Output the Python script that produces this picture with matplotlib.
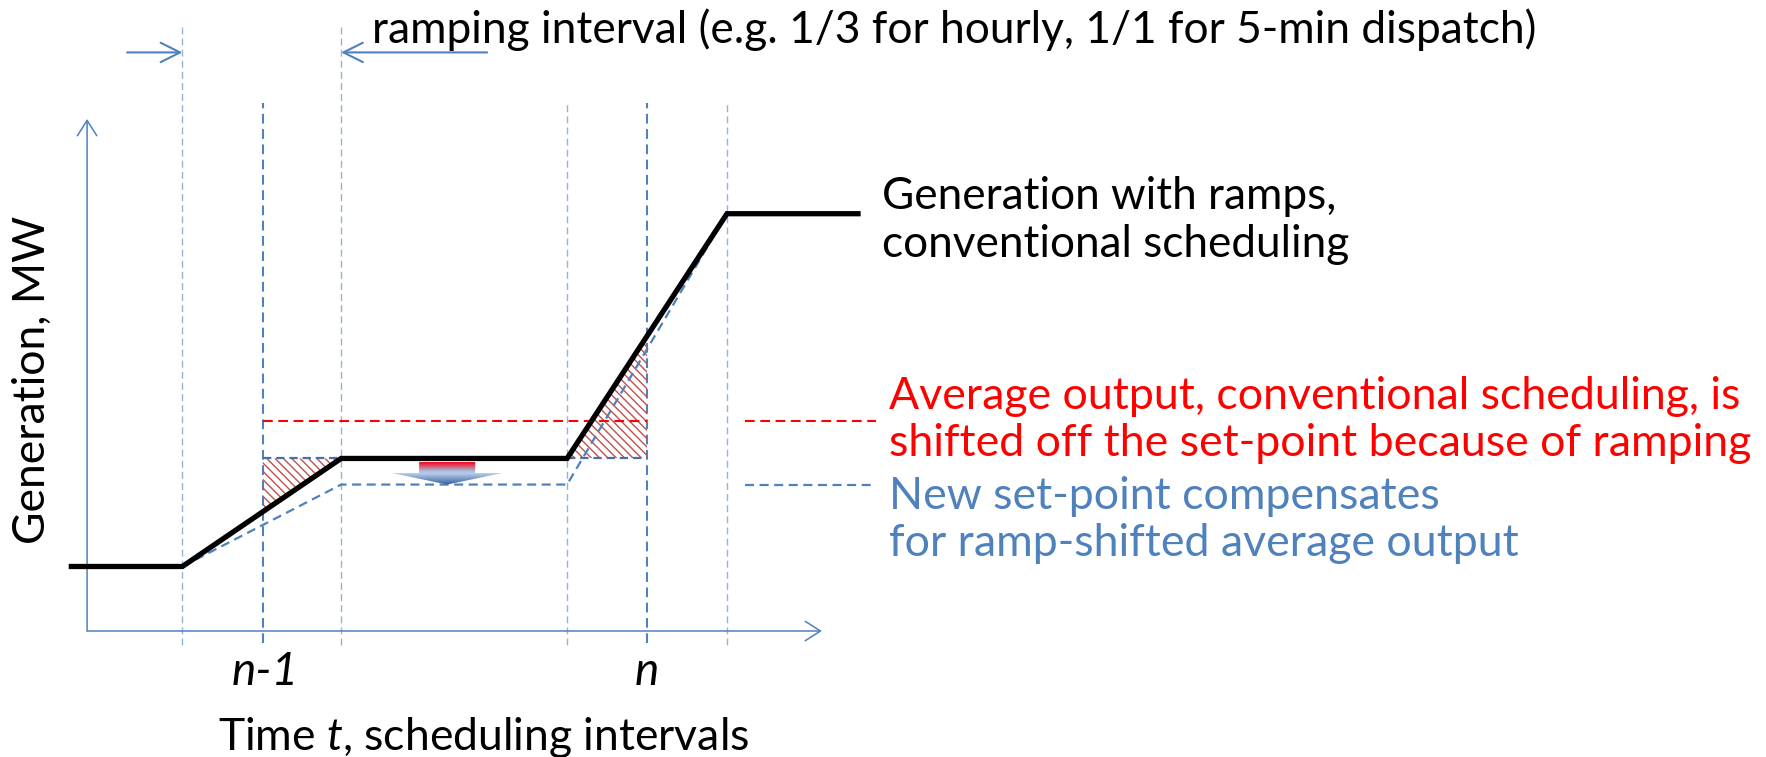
import numpy as np
import matplotlib
matplotlib.use('Agg')
import matplotlib.pyplot as plt
from matplotlib.patches import Polygon
from matplotlib.colors import LinearSegmentedColormap

# time in scheduling intervals (n-1 -> 1, n -> 2), generation in MW (arbitrary units)
t_gen = [0.502, 0.791, 1.204, 1.792, 2.208, 2.549]
gen = [1.26, 1.26, 3.37, 3.37, 8.15, 8.15]
t_new = [0.791, 1.204, 1.792, 2.208]
gen_new = [1.26, 2.86, 2.86, 8.15]
avg_level = 4.11
intervals = [1, 2]
interval_labels = ['n-1', 'n']
ramp_edges = [0.791, 1.204, 1.792, 2.208]

BLUE = '#4F81BD'
LIGHT = '#95B3D7'
RED = '#FF0000'
HATCH = '#C0504D'
FONT = 'Lato'

plt.rcParams['font.family'] = [FONT, 'DejaVu Sans']
plt.rcParams['mathtext.fontset'] = 'custom'
plt.rcParams['mathtext.rm'] = FONT
plt.rcParams['mathtext.it'] = FONT + ':italic'
plt.rcParams['lines.scale_dashes'] = False
plt.rcParams['hatch.linewidth'] = 1.0

W, H = 1766, 757
fig = plt.figure(figsize=(W / 100, H / 100), dpi=100)
ax = fig.add_axes([0, 0, 1, 1])


def fxy(px, py):
    return px / W, 1 - py / H


# guide lines
for i, t in enumerate(ramp_edges):
    top = 11.8 if i < 2 else 10.31
    ax.plot([t, t], [-0.28, top], color=LIGHT, lw=1.0, dashes=(5, 3), zorder=1)
for t in intervals:
    ax.plot([t, t], [-0.23, 10.31], color=BLUE, lw=1.5, dashes=(7, 4), zorder=1)

# axes arrows
ax_t0 = 0.543
head = dict(arrowstyle='->,head_length=0.55,head_width=0.35', mutation_scale=20,
            lw=1.1, color=BLUE, shrinkA=0, shrinkB=0)
ax.annotate('', xy=(ax_t0, 10.0), xytext=(ax_t0, 0), arrowprops=head)
ax.annotate('', xy=(2.455, 0), xytext=(ax_t0, 0), arrowprops=head)

# ramping interval arrows
head2 = dict(arrowstyle='->,head_length=0.7,head_width=0.35', mutation_scale=20,
             lw=1.5, color=BLUE, shrinkA=0, shrinkB=0)
ax.annotate('', xy=(ramp_edges[0], 11.3), xytext=(0.647, 11.3), arrowprops=head2)
ax.annotate('', xy=(ramp_edges[1], 11.3), xytext=(1.584, 11.3), arrowprops=head2)

# hatched triangles between ramp and set-point
mid = gen[2]
g_at = np.interp(intervals, t_gen, gen)
tri_l = [(intervals[0], mid), (t_gen[2], mid), (intervals[0], g_at[0])]
tri_r = [(t_gen[3], mid), (intervals[1], mid), (intervals[1], g_at[1])]
for tri in (tri_l, tri_r):
    ax.add_patch(Polygon(tri, closed=True, fill=False, hatch='\\\\\\\\',
                         edgecolor=HATCH, lw=0, zorder=2))
ax.plot([intervals[0], t_gen[2]], [mid, mid], color='#4A6FA5', lw=1.6, dashes=(6, 3.5), zorder=2)
ax.plot([t_gen[3], intervals[1]], [mid, mid], color='#4A6FA5', lw=1.6, dashes=(6, 3.5), zorder=2)

# average output and new set-point
ax.plot(intervals, [avg_level, avg_level], color=RED, lw=1.5, dashes=(7, 4), zorder=3)
ax.plot(t_new, gen_new, color=BLUE, lw=1.6, dashes=(6.5, 4), zorder=3)
ax.plot([2.255, 2.596], [avg_level, avg_level], color=RED, lw=1.5, dashes=(7, 4))
ax.plot([2.255, 2.596], [gen_new[1], gen_new[1]], color=BLUE, lw=1.6, dashes=(6.5, 4))

# generation with ramps
ax.plot(t_gen, gen, color='black', lw=3.8, solid_joinstyle='miter', zorder=5)

# gradient arrow (shift down)
c, rw, hw = 1.48, 0.073, 0.144
top, base, tip = 3.30, 3.086, gen_new[1]
arrow = Polygon([(c - rw, top), (c + rw, top), (c + rw, base), (c + hw, base),
                 (c, tip), (c - hw, base), (c - rw, base)], closed=True,
                facecolor='none', edgecolor='none')
ax.add_patch(arrow)
cmap = LinearSegmentedColormap.from_list('shift', [
    (0.0, '#2E5E9E'), (0.51, '#B9CEE8'), (0.62, '#A3BADB'),
    (0.82, '#D9566B'), (1.0, '#F5001A')])
grad = np.linspace(0, 1, 256).reshape(-1, 1)
im = ax.imshow(grad, cmap=cmap, extent=(c - hw, c + hw, tip, top), origin='lower',
               aspect='auto', zorder=4)
im.set_clip_path(arrow)

ax.set_xlim(0.3164, 4.9117)
ax.set_ylim(-2.461, 12.324)
ax.axis('off')

# texts
fig.text(*fxy(372, 43), 'ramping interval (e.g. 1/3 for hourly, 1/1 for 5-min dispatch)',
         fontsize=31.9, va='baseline')
fig.text(*fxy(882, 209), 'Generation with ramps,', fontsize=31.8, va='baseline')
fig.text(*fxy(882, 257), 'conventional scheduling', fontsize=31.8, va='baseline')
fig.text(*fxy(889, 409), 'Average output, conventional scheduling, is', fontsize=32.1,
         va='baseline', color=RED)
fig.text(*fxy(889, 456), 'shifted off the set-point because of ramping', fontsize=32.1,
         va='baseline', color=RED)
fig.text(*fxy(889, 509), 'New set-point compensates', fontsize=32.1, va='baseline', color=BLUE)
fig.text(*fxy(889, 556), 'for ramp-shifted average output', fontsize=32.1, va='baseline',
         color=BLUE)
for px, lab in zip([265, 647], interval_labels):
    fig.text(*fxy(px, 685), lab, fontsize=33, style='italic', ha='center', va='baseline')
fig.text(*fxy(484, 750), 'Time $t$, scheduling intervals', fontsize=32, ha='center',
         va='baseline')
fig.text(*fxy(45, 380), 'Generation, MW', fontsize=32, rotation=90, rotation_mode='anchor',
         ha='center', va='baseline')

fig.savefig('out.png', dpi=100)
